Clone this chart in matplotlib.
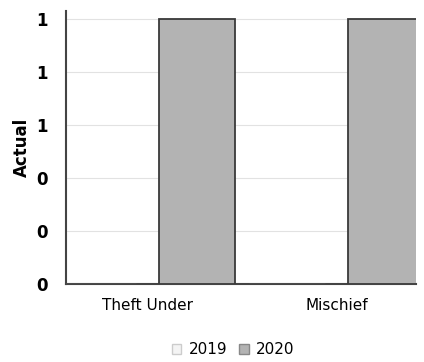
import matplotlib
matplotlib.use("Agg")
import matplotlib.pyplot as plt
import numpy as np
from matplotlib.ticker import FormatStrFormatter
from matplotlib.patches import Patch

categories = ["Theft Under", "Mischief"]
series_names = ["2019", "2020"]
values_2019 = [0, 0]
values_2020 = [1, 1]
y_ticks = [0, 0.2, 0.4, 0.6, 0.8, 1.0]

fig = plt.figure(figsize=(4.24, 3.62), dpi=100)
ax = fig.add_axes([0.156, 0.215, 0.825, 0.755])

x = np.arange(len(categories))
w = 0.405
off = 0.06
ax.bar(x - off - w / 2, values_2019, w, color="#f4f4f4", edgecolor="#cccccc", linewidth=0.8, zorder=3)
ax.bar(x + off + w / 2, values_2020, w, color="#b3b3b3", edgecolor="#3a3a3a", linewidth=1.3, zorder=3)

ax.set_xlim(-0.43, 1.42)
ax.set_ylim(0, 1.03)
ax.set_yticks(y_ticks)
ax.yaxis.set_major_formatter(FormatStrFormatter("%.0f"))
ax.set_xticks(x)
ax.set_xticklabels(categories, fontsize=11)
for lab in ax.get_yticklabels():
    lab.set_fontsize(12)
    lab.set_fontweight("bold")
ax.tick_params(axis="x", length=0, pad=10)
ax.tick_params(axis="y", length=0, pad=13)
ax.grid(axis="y", color="#e2e2e2", linewidth=0.8, zorder=0)
ax.set_axisbelow(True)
for s in ["top", "right"]:
    ax.spines[s].set_visible(False)
ax.spines["left"].set_color("#444444")
ax.spines["left"].set_linewidth(1.5)
ax.spines["bottom"].set_color("#444444")
ax.spines["bottom"].set_linewidth(1.5)
ax.set_ylabel("Actual", fontsize=12, fontweight="bold", labelpad=4)

handles = [Patch(facecolor="#f4f4f4", edgecolor="#cccccc", label=series_names[0]),
           Patch(facecolor="#b3b3b3", edgecolor="#888888", label=series_names[1])]
fig.legend(handles=handles, loc="lower center", bbox_to_anchor=(0.55, -0.025), ncol=2,
           frameon=False, fontsize=11, handlelength=0.6, handleheight=0.6,
           handletextpad=0.5, columnspacing=0.8)

fig.savefig("out.png", dpi=100)
